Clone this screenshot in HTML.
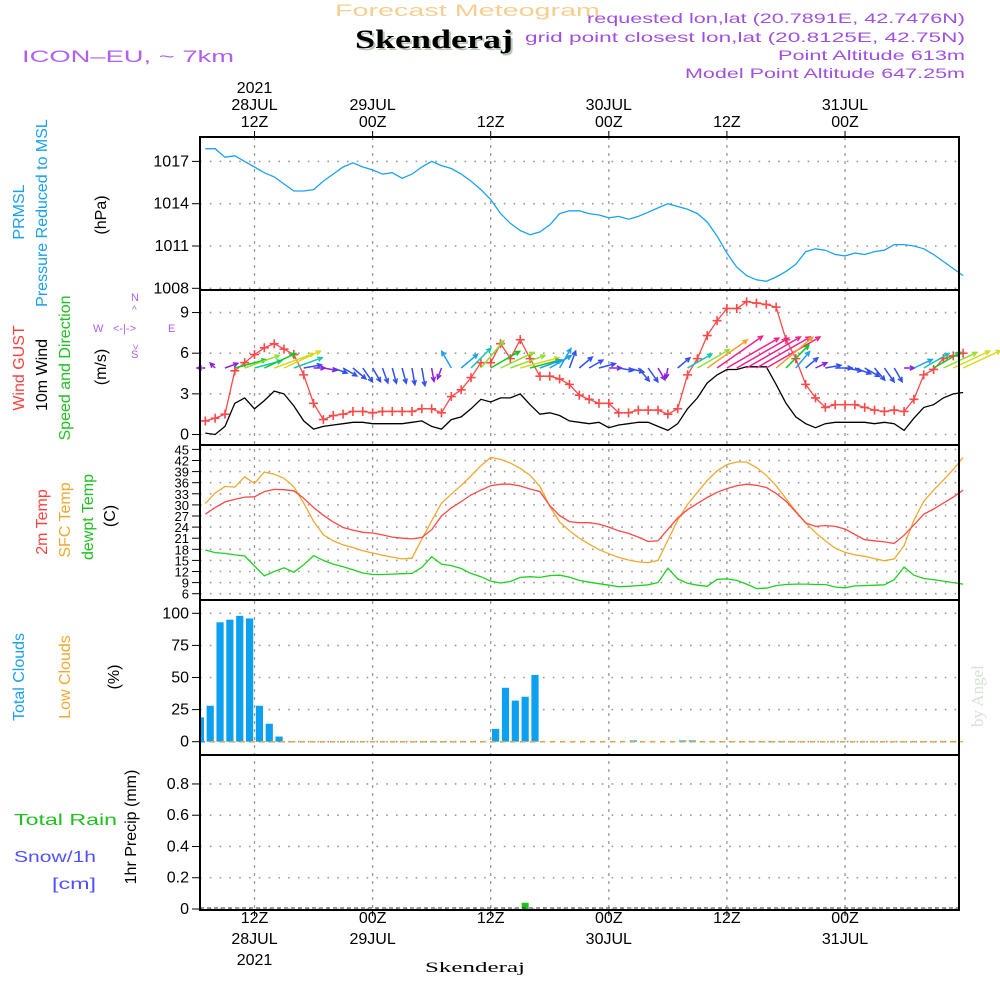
<!DOCTYPE html>
<html><head><meta charset="utf-8"><style>
body{margin:0;background:#fff;}
svg{display:block;font-family:"Liberation Sans",sans-serif;}
</style></head><body>
<svg id="chart" width="1000" height="1000" viewBox="0 0 1000 1000" xmlns="http://www.w3.org/2000/svg">
<rect x="0" y="0" width="1000" height="1000" fill="#fff"/>
<text x="335" y="16" font-size="17" fill="#f5cf90" textLength="265" lengthAdjust="spacingAndGlyphs">Forecast Meteogram</text>
<text x="357" y="50" font-family="Liberation Serif,serif" font-weight="bold" font-size="26" fill="#b8c8b8" textLength="158" lengthAdjust="spacingAndGlyphs">Skenderaj</text>
<text x="355" y="48" font-family="Liberation Serif,serif" font-weight="bold" font-size="26" fill="#000" textLength="158" lengthAdjust="spacingAndGlyphs">Skenderaj</text>
<text x="22" y="62" font-size="17" fill="#b060f0" textLength="212" lengthAdjust="spacingAndGlyphs">ICON–EU, ~ 7km</text>
<g fill="#a050e0" font-size="14" text-anchor="end">
<text x="965" y="23" textLength="378" lengthAdjust="spacingAndGlyphs">requested lon,lat (20.7891E, 42.7476N)</text>
<text x="965" y="42" textLength="440" lengthAdjust="spacingAndGlyphs">grid point closest lon,lat (20.8125E, 42.75N)</text>
<text x="965" y="60" textLength="187" lengthAdjust="spacingAndGlyphs">Point Altitude 613m</text>
<text x="965" y="78" textLength="280" lengthAdjust="spacingAndGlyphs">Model Point Altitude 647.25m</text>
</g>
<text transform="translate(983,727) rotate(-90)" font-family="Liberation Serif,serif" font-size="17" fill="#d6e2d6">by Angel</text>
<g id="labels"></g>
<g id="grid"></g>
<g id="marks"></g>
<g id="frame"></g>
</svg>
<script>
// ---- data (hourly, starting 07Z 28JUL 2021) ----
const startHourLabel = "07Z 28JUL";
const pressure = [1017.9,1017.9,1017.3,1017.4,1017.0,1016.6,1016.2,1015.9,1015.4,1014.9,1014.9,1015.0,1015.6,1016.1,1016.6,1016.9,1016.6,1016.4,1016.1,1016.2,1015.8,1016.1,1016.6,1017.0,1016.7,1016.5,1016.1,1015.6,1015.0,1014.3,1013.3,1012.6,1012.1,1011.8,1012.0,1012.5,1013.3,1013.5,1013.5,1013.3,1013.2,1013.0,1013.1,1012.9,1013.1,1013.4,1013.7,1014.0,1013.8,1013.6,1013.3,1012.7,1011.7,1010.5,1009.5,1008.9,1008.6,1008.5,1008.8,1009.2,1009.7,1010.6,1010.8,1010.7,1010.4,1010.3,1010.5,1010.4,1010.6,1010.7,1011.1,1011.1,1011.0,1010.8,1010.4,1009.9,1009.4,1008.9];
const gust = [1.0,1.2,1.5,4.7,5.3,5.9,6.4,6.7,6.3,5.9,4.4,2.3,1.1,1.4,1.5,1.7,1.7,1.6,1.7,1.7,1.7,1.7,1.9,1.9,1.6,2.8,3.3,4.2,5.3,5.3,6.7,5.6,7.0,5.6,4.3,4.3,4.1,3.7,2.9,2.6,2.3,2.3,1.6,1.6,1.8,1.8,1.8,1.5,1.9,4.4,5.6,7.3,8.4,9.3,9.3,9.8,9.7,9.6,9.4,7.0,5.6,3.7,2.7,2.0,2.2,2.2,2.2,2.0,1.8,1.7,1.8,1.7,2.6,4.4,4.8,5.6,5.8,6.0];
const wind = [0.1,0.0,0.6,2.3,2.7,1.9,2.5,3.2,3.0,2.1,1.0,0.4,0.6,0.7,0.8,0.9,0.9,0.8,0.8,0.8,0.8,0.9,1.0,0.6,0.4,1.1,1.3,1.9,2.6,2.4,2.7,2.7,3.0,2.2,1.5,1.6,1.4,1.0,0.9,0.8,0.9,0.5,0.7,0.8,0.9,0.9,0.6,0.3,0.8,1.9,2.7,3.8,4.4,4.8,4.8,5.0,5.0,5.0,3.7,2.3,1.3,0.8,0.5,0.8,0.9,0.9,0.9,0.9,0.8,0.9,0.8,0.3,1.2,2.0,2.2,2.7,3.0,3.1];
const windDir = [180,135,20,15,20,15,25,20,25,20,10,0,-10,-20,-30,-40,-55,-60,-70,-75,-75,-80,-80,-80,-110,120,40,45,50,30,25,20,15,15,20,30,60,70,40,30,15,0,-10,-15,-50,-55,-60,-100,40,30,30,35,35,30,30,30,30,30,40,45,50,40,25,10,0,-10,-20,-30,-50,-55,-60,0,25,30,30,25,25,25];
const temp2m = [27.5,29.3,30.8,31.5,32.1,32.2,33.6,34.2,34.1,33.8,31.8,29.3,27.2,25.4,23.9,23.2,22.6,22.4,21.9,21.3,21.0,20.8,21.2,23.3,27.0,29.2,30.9,32.7,34.0,35.2,35.6,35.6,35.1,34.3,33.6,29.8,27.1,25.5,25.2,25.2,24.8,24.0,23.0,22.3,21.3,20.1,20.3,23.4,26.5,28.7,30.4,32.0,33.4,34.4,35.2,35.6,35.3,34.7,33.1,31.0,28.1,25.1,24.2,24.4,24.2,23.5,22.0,20.6,20.3,20.0,19.6,21.8,24.6,27.5,28.9,30.5,32.1,34.0];
const tempSfc = [30.4,33.2,35.0,34.8,37.6,35.8,38.9,38.3,37.2,34.9,30.5,25.6,21.9,20.3,19.2,18.5,17.6,17.0,16.4,15.9,15.4,15.6,20.7,25.7,30.5,32.9,35.3,37.8,40.6,42.8,42.3,41.3,39.9,38.0,35.0,29.6,25.4,23.0,21.0,19.4,17.9,16.8,15.8,15.1,14.6,14.4,15.0,20.5,25.9,30.1,33.4,36.6,39.2,40.9,41.6,41.6,40.1,38.0,35.2,31.7,28.3,25.2,22.5,20.3,18.3,17.2,16.5,16.1,15.5,14.9,15.4,19.0,25.9,31.0,34.0,36.7,39.6,42.8];
const dewpt = [17.8,17.1,16.9,16.5,16.2,13.5,10.8,12.0,13.0,11.8,13.8,16.3,15.0,14.0,13.3,12.5,11.6,11.2,11.2,11.3,11.4,11.5,13.1,16.0,14.0,13.6,12.8,11.5,10.6,9.4,8.9,9.3,10.4,10.6,10.4,10.9,11.0,10.5,9.6,9.1,8.7,8.3,7.9,8.0,8.2,8.4,9.0,12.9,10.0,8.8,8.3,8.0,9.9,10.0,9.6,8.6,7.4,7.5,8.2,8.5,8.6,8.6,8.5,8.5,7.8,7.6,8.1,8.2,8.3,8.4,9.8,13.2,11.0,10.1,9.8,9.4,9.0,8.6];
const totalClouds = [19,28,93,95,98,96,28,14,4,0,0,0,0,0,0,0,0,0,0,0,0,0,0,0,0,0,0,0,0,0,10,42,32,35,52,0,0,0,0,0,0,0,0,0,1,0,0,0,0,1,1,0,0,0,0,0,0,0,0,0,0,0,0,0,0,0,0,0,0,0,0,0,0,0,0,0,0,0];
const lowClouds = new Array(78).fill(0);
const precip = [0,0,0,0,0,0,0,0,0,0,0,0,0,0,0,0,0,0,0,0,0,0,0,0,0,0,0,0,0,0,0,0,0,0.04,0,0,0,0,0,0,0,0,0,0,0,0,0,0,0,0,0,0,0,0,0,0,0,0,0,0,0,0,0,0,0,0,0,0,0,0,0,0,0,0,0,0,0,0];
const pressTicks = [1017,1014,1011,1008];
const windTicks = [0,3,6,9];
const tempTicks = [6,9,12,15,18,21,24,27,30,33,36,39,42,45];
const cloudTicks = [0,25,50,75,100];
const precipTicks = [0,0.2,0.4,0.6,0.8];
const timeTickIdx = [5,17,29,41,53,65];
const topLabels = [["2021","28JUL","12Z"],["","29JUL","00Z"],["","","12Z"],["","30JUL","00Z"],["","","12Z"],["","31JUL","00Z"]];
const botLabels = [["12Z","28JUL","2021"],["00Z","29JUL",""],["12Z","",""],["00Z","30JUL",""],["12Z","",""],["00Z","31JUL",""]];

// ---- axes ----
const L=200,R=959;
const X=i=>254.5+(i-5)*9.842;
const yP=v=>288.3-(v-1008)*14.1;
const yW=v=>434.5-v*13.55;
const yT=v=>593.7-(v-6)*3.7;
const yC=v=>741.7-v*1.284;
const yR=v=>909-v*156.3;
const NS="http://www.w3.org/2000/svg";
function mk(tag,attrs,parent){const e=document.createElementNS(NS,tag);for(const k in attrs)e.setAttribute(k,attrs[k]);parent.appendChild(e);return e;}
const gL=document.getElementById('labels'),gG=document.getElementById('grid'),gM=document.getElementById('marks'),gF=document.getElementById('frame');

function hgrid(ticks,yf,fmt,name,fs){
  ticks.forEach(t=>{
    const y=yf(t);
    const ln=mk('line',{x1:L,x2:R,y1:y,y2:y,stroke:'#999','stroke-width':1.6,'stroke-dasharray':'1.6 8.2'},gG);
    
    
    const tk=mk('line',{x1:192,x2:L,y1:y,y2:y,stroke:'#000','stroke-width':1},gF);
    
    
    const tx=mk('text',{x:189,y:y+5,'font-size':fs||16,'text-anchor':'end',fill:'#000'},gF);
    
    
    tx.textContent=fmt(t);
  });
}
hgrid(pressTicks,yP,String,'pressure-axis');
hgrid(windTicks,yW,String,'wind-axis');
hgrid(tempTicks,yT,String,'temp-axis',13);
hgrid(cloudTicks,yC,String,'cloud-axis');
hgrid(precipTicks,yR,v=>v===0?'0':v.toFixed(1),'precip-axis');
timeTickIdx.forEach((i,k)=>{
  const x=X(i);
  const v=mk('line',{x1:x,x2:x,y1:137,y2:910,stroke:'#999','stroke-width':1.3,'stroke-dasharray':'3 5'},gG);
  
  
  mk('line',{x1:x,x2:x,y1:131,y2:137,stroke:'#000'},gF);
  mk('line',{x1:x,x2:x,y1:910,y2:916,stroke:'#000'},gF);
  topLabels[k].forEach((s,j)=>{ if(!s)return;
    const t=mk('text',{x:x,y:93+j*17,'font-size':16,'text-anchor':'middle'},gL);
    
    
    t.textContent=s;});
  botLabels[k].forEach((s,j)=>{ if(!s)return;
    const t=mk('text',{x:x,y:923+j*21,'font-size':16,'text-anchor':'middle'},gL);
    
    
    t.textContent=s;});
});

[[137,290],[290,445],[445,600],[600,755],[755,910]].forEach(p=>{
  const r=mk('rect',{x:L,y:p[0],width:R-L,height:p[1]-p[0],fill:'none',stroke:'#000','stroke-width':2},gF);
  
  
});

function line(arr,xf,yf,color,name,w){
  const d=arr.map((v,i)=>(i?'L':'M')+xf(i).toFixed(1)+','+yf(v).toFixed(1)).join('');
  const p=mk('path',{d:d,fill:'none',stroke:color,'stroke-width':w||1.3},gM);
  
  
  return p;
}
line(pressure,X,yP,'#1aa3f0','pressure-line');
line(wind,X,yW,'#000','wind-speed-line');
line(gust,X,yW,'#ff4848','wind-gust-line');
gust.forEach((v,i)=>{
  const x=X(i),y=yW(v);
  const m=mk('path',{d:`M${x-4.5},${y}H${x+4.5}M${x},${y-4.5}V${y+4.5}`,stroke:'#ff4848','stroke-width':1.6},gM);
  
  
});
function arrowColor(s){
  if(s<0.7)return '#9020e0';
  if(s<1.05)return '#3050f0';
  if(s<1.7)return '#1aa0f0';
  if(s<2.2)return '#10c8b0';
  if(s<2.6)return '#10c820';
  if(s<3.0)return '#90e030';
  if(s<3.5)return '#d8d820';
  if(s<4.3)return '#f0a030';
  return '#f0208c';
}
wind.forEach((s,i)=>{
  const a=windDir[i]*Math.PI/180;
  const Lg=7+s*11;
  const x0=X(i),y0=368;
  const x1=x0+Lg*Math.cos(a),y1=y0-Lg*Math.sin(a);
  const h=5,b=0.45;
  const hx1=x1-h*Math.cos(a-b),hy1=y1+h*Math.sin(a-b);
  const hx2=x1-h*Math.cos(a+b),hy2=y1+h*Math.sin(a+b);
  const p=mk('path',{d:`M${x0},${y0}L${x1},${y1}M${hx1},${hy1}L${x1},${y1}L${hx2},${hy2}`,fill:'none',stroke:arrowColor(s),'stroke-width':1.5},gM);
  
  
});
line(tempSfc,X,yT,'#f0a830','sfc-temp-line');
line(temp2m,X,yT,'#ff4848','temp-2m-line');
line(dewpt,X,yT,'#20d020','dewpoint-line');
totalClouds.forEach((v,i)=>{ if(v<=0)return;
  const cx=X(i-0.5),x0=Math.max(L+1,cx-3.6);
  const r=mk('rect',{x:x0,y:yC(v),width:cx+3.6-x0,height:yC(0)-yC(v),fill:'#0ea0f0'},gM);
  
  
});
const z1=mk('line',{x1:L,x2:R,y1:yC(0),y2:yC(0),stroke:'#1aa0f0','stroke-width':1.5,'stroke-dasharray':'5 5'},gM);


const lc=line(lowClouds,X,yC,'#f0a830','low-cloud-line');
lc.setAttribute('stroke-dasharray','5 5');
lc.setAttribute('stroke-dashoffset','5');
precip.forEach((v,i)=>{ if(v<=0)return;
  const cx=X(i-0.5);
  const r=mk('rect',{x:cx-3.5,y:yR(v),width:7,height:yR(0)-yR(v),fill:'#20c020'},gM);
  
  
});
const z2=mk('line',{x1:L,x2:R,y1:yR(0)-1,y2:yR(0)-1,stroke:'#333','stroke-width':1,'stroke-dasharray':'4 3'},gM);



function vlab(txt,x,y,color,name,fs){
  const t=mk('text',{transform:`translate(${x},${y}) rotate(-90)`,'font-size':fs||16,'text-anchor':'middle',fill:color},gL);
  
  
  t.textContent=txt;
}
vlab('PRMSL',24,212,'#1aa0f0','prmsl-label');
vlab('Pressure Reduced to MSL',47,213,'#1aa0f0','pressure-title');
vlab('(hPa)',106,215,'#000','pressure-unit');
vlab('Wind GUST',24,368,'#ff4040','gust-label');
vlab('10m Wind',47,375,'#000','wind-label');
vlab('Speed and Direction',70,368,'#20c020','wind-dir-label');
vlab('(m/s)',106,367,'#000','wind-unit');
vlab('2m Temp',47,522,'#ff4040','temp2m-label');
vlab('SFC Temp',70,520,'#f0a830','sfc-temp-label');
vlab('dewpt Temp',93,517,'#20c020','dewpt-label');
vlab('(C)',115,516,'#000','temp-unit');
vlab('Total Clouds',24,677,'#1aa0f0','total-clouds-label');
vlab('Low Clouds',70,677,'#f0a830','low-clouds-label');
vlab('(%)',119,677,'#000','cloud-unit');
vlab('1hr Precip (mm)',136,827,'#000','precip-title');
function hlab(txt,x,y,color,name,fs,extra){
  const t=mk('text',Object.assign({x:x,y:y,'font-size':fs||16,fill:color},extra||{}),gL);
  
  
  t.textContent=txt;
}
hlab('Total   Rain',14,825,'#20c020','rain-label',16,{'xml:space':'preserve',textLength:103,lengthAdjust:'spacingAndGlyphs'});
hlab('Snow/1h',14,862,'#5050ff','snow-label',16,{textLength:82,lengthAdjust:'spacingAndGlyphs'});
hlab('[cm]',52,889,'#5050ff','snow-unit',16,{textLength:44,lengthAdjust:'spacingAndGlyphs'});
hlab('W',93,332,'#b060f0','compass-w',11);
hlab('E',168,332,'#b060f0','compass-e',11);
hlab('N',131,301,'#b060f0','compass-n',11);
hlab('S',131,358,'#b060f0','compass-s',11);
hlab('<-|->',113,332,'#b060f0','compass-ew',11);
hlab('^',132,313,'#b060f0','compass-up',10);
hlab('<',131,350,'#b060f0','compass-down',10,{transform:'rotate(-90,135,346)'});
hlab('Skenderaj',425,972,'#000','bottom-location',15,{'font-family':'Liberation Serif,serif',textLength:100,lengthAdjust:'spacingAndGlyphs'});
</script>
</body></html>
